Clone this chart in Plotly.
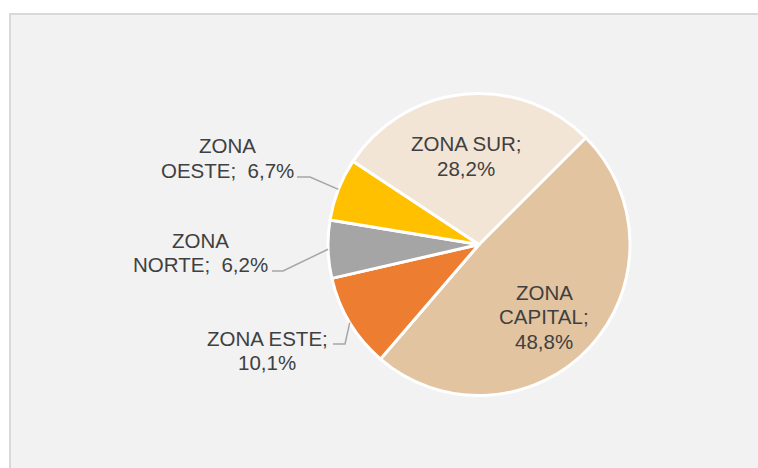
import math
import plotly.graph_objects as go

# Data
labels = ["ZONA CAPITAL", "ZONA ESTE", "ZONA NORTE", "ZONA OESTE", "ZONA SUR"]
values = [48.8, 10.1, 6.2, 6.7, 28.2]
colors = ["#E2C4A0", "#ED7D31", "#A5A5A5", "#FFC000", "#F2E5D6"]
label_lines = [["ZONA", "CAPITAL;", "48,8%"], ["ZONA ESTE;", "10,1%"], ["ZONA", "NORTE;\u00a0 6,2%"],
               ["ZONA", "OESTE;\u00a0 6,7%"], ["ZONA SUR;", "28,2%"]]

W, H = 758, 468
CX, CY, R = 479, 244.5, 151
ROT = 45
LINE_H = 24.5


def px(x, y):
    return x / W, 1 - y / H


fig = go.Figure()
fig.add_trace(go.Pie(
    labels=labels, values=values, sort=False, direction="clockwise", rotation=ROT,
    marker=dict(colors=colors, line=dict(color="white", width=3)),
    textinfo="none", showlegend=False, hoverinfo="label+percent",
    domain=dict(x=[(CX - R) / W, (CX + R) / W], y=[(H - CY - R) / H, (H - CY + R) / H]),
))

# Label positions (pixel centers) and leader lines
label_pos = [(544, 316.5), (267, 350.5), (200, 252.5), (227, 158), (466, 156)]
leader_start = [None, ((333, 344), (345, 344)), ((272, 271), (283, 271)), ((297, 177), (310, 177)), None]

annotations = []
shapes = [dict(type="rect", xref="paper", yref="paper", x0=10 / W, x1=1.05, y0=-0.05, y1=1 - 14 / H,
               fillcolor="#F2F2F2", line=dict(color="#D9D9D9", width=2), layer="below")]

total = sum(values)
cum = 0.0
for i, v in enumerate(values):
    mid = ROT + (cum + v / 2) / total * 360
    cum += v
    lx, ly = label_pos[i]
    n = len(label_lines[i])
    for j, line in enumerate(label_lines[i]):
        yy = ly + (j - (n - 1) / 2) * LINE_H
        x, y = px(lx, yy)
        annotations.append(dict(x=x, y=y, xref="paper", yref="paper", text=line,
                                showarrow=False, xanchor="center", yanchor="middle", align="center",
                                font=dict(family="Liberation Sans, Arial", size=20.5, color="#404040")))
    if leader_start[i]:
        (ax0, ay0), (ax1, ay1) = leader_start[i]
        ex = CX + R * math.sin(math.radians(mid))
        ey = CY - R * math.cos(math.radians(mid))
        pts = [px(ax0, ay0), px(ax1, ay1), px(ex, ey)]
        path = "M {} {} L {} {} L {} {}".format(pts[0][0], pts[0][1], pts[1][0], pts[1][1], pts[2][0], pts[2][1])
        shapes.append(dict(type="path", xref="paper", yref="paper", path=path,
                           line=dict(color="#A6A6A6", width=1.5)))

fig.update_layout(width=W, height=H, margin=dict(l=0, r=0, t=0, b=0),
                  paper_bgcolor="white", plot_bgcolor="white",
                  annotations=annotations, shapes=shapes)
fig.write_html("out.html", config={"displayModeBar": False},
               post_script="document.body.style.margin='0';document.body.style.overflow='hidden';")
